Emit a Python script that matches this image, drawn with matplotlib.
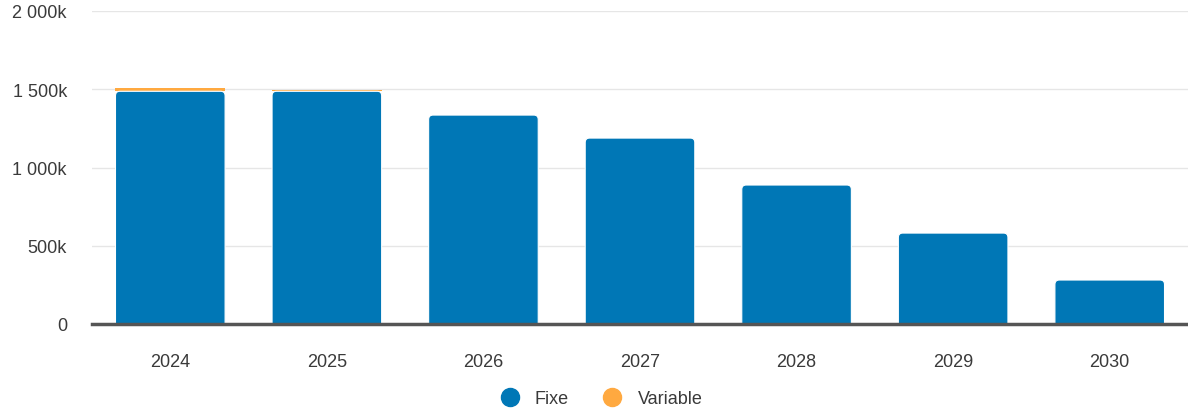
import matplotlib
matplotlib.use("Agg")
import matplotlib.pyplot as plt
from matplotlib.ticker import FuncFormatter
from matplotlib.lines import Line2D
from matplotlib.patches import FancyBboxPatch

years = ["2024", "2025", "2026", "2027", "2028", "2029", "2030"]
fixe = [1487, 1487, 1335, 1188, 888, 581, 281]
variable = [20, 8, 0, 0, 0, 0, 0]
yticks = [0, 500, 1000, 1500, 2000]

plt.rcParams['font.family'] = ['Liberation Sans', 'DejaVu Sans']
blue = "#0077B6"
orange = "#FFA940"
txt = "#3a3a3a"

fig = plt.figure(figsize=(11.88, 4.14), dpi=100)
ax = fig.add_axes([92/1188, 89/414, 1 - 92/1188, (325-12)/414])

x = list(range(len(years)))
bars = ax.bar(x, fixe, width=0.7, color=blue, edgecolor="white", linewidth=0.8, zorder=3)
ax.bar(x, variable, width=0.7, bottom=fixe, color=orange, edgecolor="none", linewidth=0, zorder=3)

ax.set_xlim(-0.5, 6.5)
ax.set_ylim(0, 2000)

# rounded top corners for the blue bars
r = 0.028
aspect = 1024
for rect in bars:
    bx, by = rect.get_x(), rect.get_y()
    bw, bh = rect.get_width(), rect.get_height()
    rect.set_visible(False)
    p = FancyBboxPatch((bx, by - 60), bw, bh + 60,
                       boxstyle=f"round,pad=0,rounding_size={r}",
                       mutation_aspect=aspect, facecolor=blue,
                       edgecolor="white", linewidth=0.8, zorder=3)
    ax.add_patch(p)
    p.set_clip_path(ax.patch)

ax.set_yticks(yticks)
ax.yaxis.set_major_formatter(FuncFormatter(lambda v, p: "0" if v == 0 else f"{int(v):,}k".replace(",", " ")))
ax.set_xticks(x)
ax.set_xticklabels(years)
ax.grid(axis="y", color="#e6e6e6", linewidth=1, zorder=0)
for s in ["top", "right", "left"]:
    ax.spines[s].set_visible(False)
ax.spines["bottom"].set_color("#555555")
ax.spines["bottom"].set_linewidth(2.5)
ax.spines["bottom"].set_zorder(4)
ax.tick_params(axis="y", length=0, pad=18, labelsize=13, labelcolor=txt)
ax.tick_params(axis="x", length=0, pad=21, labelsize=13, labelcolor=txt)

handles = [Line2D([], [], marker="o", linestyle="none", markersize=13, color=blue),
           Line2D([], [], marker="o", linestyle="none", markersize=13, color=orange)]
fig.legend(handles, ["Fixe", "Variable"], loc="center", bbox_to_anchor=(597/1188, 1 - 400/414),
           ncol=2, frameon=False, fontsize=13, handletextpad=0.4, columnspacing=1.4,
           labelcolor=txt)

fig.savefig("out.png", dpi=100)
